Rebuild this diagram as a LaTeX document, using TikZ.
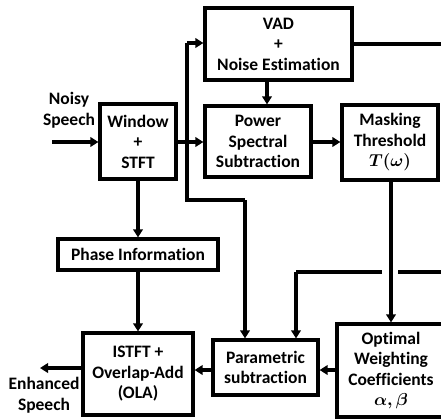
\documentclass[tikz,border=0pt]{standalone}
\usepackage{fontspec}
\setmainfont{Carlito}[Ligatures=NoCommon]
\usetikzlibrary{arrows.meta}
\begin{document}
\begin{tikzpicture}[x=1pt,y=-1pt,
  box/.style={draw=black,line width=3.2pt,fill=white,align=center,inner sep=0pt,
    font=\fontsize{17.5}{20.5}\selectfont\bfseries},
  lbl/.style={align=center,inner sep=0pt,font=\fontsize{17.5}{20.5}\selectfont\bfseries},
  ln/.style={line width=3.2pt},
  arr/.style={line width=3.2pt,-{Triangle[length=8pt,width=9.5pt]}}]
\useasboundingbox (0,0) rectangle (441,418);
\clip (0,0) rectangle (441,418);
% boxes
\node[box,minimum width=76pt,minimum height=75pt] (win) at (138,141.5) {Window\\+\\STFT};
\node[box,minimum width=147pt,minimum height=72pt] (vad) at (278.5,44) {VAD\\+\\Noise Estimation};
\node[box,minimum width=106pt,minimum height=71pt] (pss) at (258,141.5) {Power\\Spectral\\Subtraction};
\node[box,minimum width=96pt,minimum height=75pt] (mask) at (390,142.5) {Masking\\Threshold\\{\boldmath$T(\omega)$}};
\node[box,minimum width=160pt,minimum height=31pt] (phase) at (138,254.5) {Phase Information};
\node[box,minimum width=110pt,minimum height=82pt] (istft) at (138,374) {ISTFT +\\Overlap-Add\\(OLA)};
\node[box,minimum width=105pt,minimum height=55pt] (param) at (265.5,367.5) {Parametric\\subtraction};
\node[box,minimum width=108pt,minimum height=93pt] (opt) at (391,370.5) {Optimal\\Weighting\\Coefficients\\{\boldmath$\alpha,\beta$}};
% labels
\node[lbl] (noisy) at (69,110) {Noisy\\Speech};
\node[lbl] (enh) at (44,395) {Enhanced\\Speech};
% coordinates
\coordinate (in) at (52,142);
\coordinate (out) at (40,368);
\coordinate (j) at (187,142);
\coordinate (jv) at (187,43);
\coordinate (jd) at (187,200);
\coordinate (p1) at (245,200);
\coordinate (vx) at (267,0);
\coordinate (vr) at (445,44);
\coordinate (fr) at (445,272);
\coordinate (g1) at (398,272);
\coordinate (g2) at (382,272);
\coordinate (f2) at (296,272);
% connectors
\draw[arr] (in) -- (win.west |- in);
\draw[arr] (win.east |- j) -- (pss.west |- j);
\draw[ln] (j) -- (jv);
\draw[arr] (jv) -- (vad.west |- jv);
\draw[ln] (j) -- (jd) -- (p1);
\draw[arr] (p1) -- (param.north -| p1);
\draw[arr] (vad.south -| vx) -- (pss.north -| vx);
\draw[arr] (pss.east |- j) -- (mask.west |- j);
\draw[ln] (vad.east |- vr) -- (vr);
\draw[arr] (mask.south -| 391,0) -- (opt.north -| 391,0);
\draw[ln] (fr) -- (g1);
\draw[ln] (g2) -- (f2);
\draw[arr] (f2) -- (param.north -| f2);
\draw[arr] (win.south) -- (phase.north);
\draw[arr] (phase.south) -- (istft.north);
\draw[arr] (opt.west |- 0,370) -- (param.east |- 0,370);
\draw[arr] (param.west |- 0,370) -- (istft.east |- 0,370);
\draw[arr] (istft.west |- out) -- (out);
\end{tikzpicture}
\end{document}
